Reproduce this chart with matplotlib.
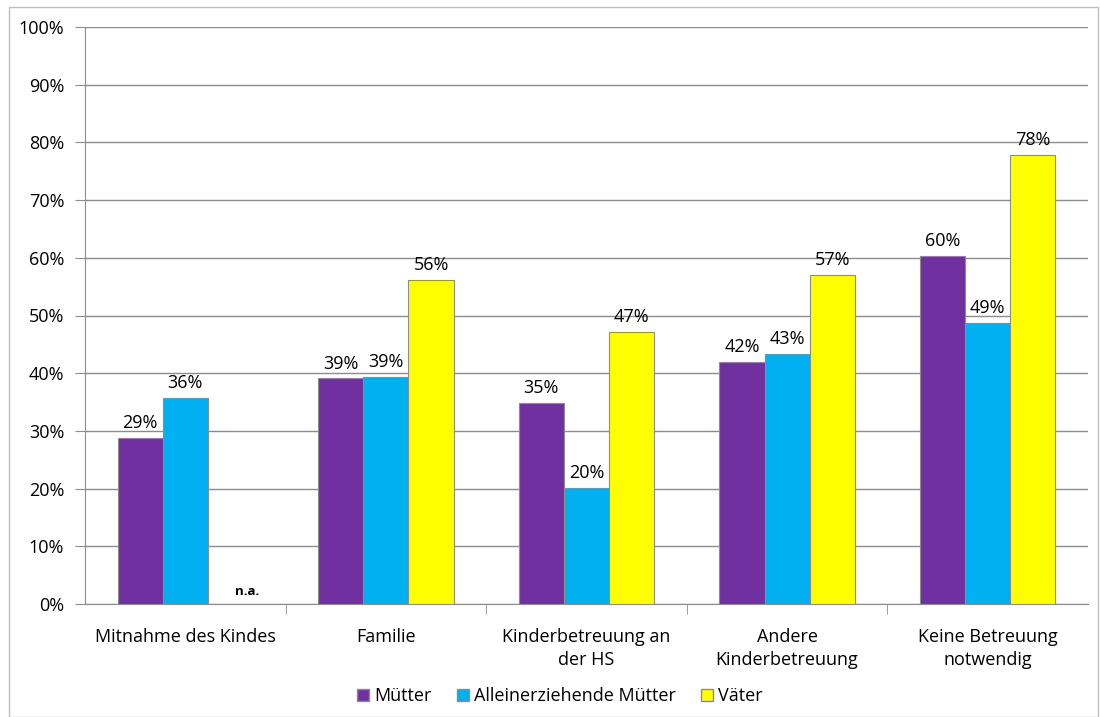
import numpy as np
import matplotlib.pyplot as plt
from matplotlib.patches import Rectangle

plt.rcParams['font.family'] = ['Open Sans', 'DejaVu Sans']

categories = ['Mitnahme des Kindes', 'Familie', 'Kinderbetreuung an\nder HS',
              'Andere\nKinderbetreuung', 'Keine Betreuung\nnotwendig']
series_names = ['Mütter', 'Alleinerziehende Mütter', 'Väter']
muetter = [28.8, 39.1, 34.8, 41.9, 60.3]
allein = [35.7, 39.4, 20.1, 43.3, 48.7]
vaeter = [None, 56.2, 47.2, 57.0, 77.8]
labels_muetter = ['29%', '39%', '35%', '42%', '60%']
labels_allein = ['36%', '39%', '20%', '43%', '49%']
labels_vaeter = [None, '56%', '47%', '57%', '78%']
colors = ['#7030A0', '#00B0F0', '#FFFF00']
fs = 13

fig = plt.figure(figsize=(11, 7.17), dpi=100)
ax = fig.add_axes([85 / 1100, 1 - 604 / 717, 1003 / 1100, 577 / 717])

# outer frame of the chart area
fig.patches.append(Rectangle((9 / 1100, 0), 1089 / 1100, 1 - 7 / 717,
                             transform=fig.transFigure, fill=False,
                             edgecolor='#BFBFBF', linewidth=1))

x = np.arange(len(categories))
w = 0.225
all_vals = [muetter, allein, vaeter]
all_labels = [labels_muetter, labels_allein, labels_vaeter]
for i, (vals, labs) in enumerate(zip(all_vals, all_labels)):
    pos = x + (i - 1) * w
    for p, v, lab in zip(pos, vals, labs):
        if v is None:
            continue
        ax.bar(p, v, width=w, color=colors[i], edgecolor='#8C8C8C',
               linewidth=0.8, zorder=3)
        ax.text(p, v + 1.0, lab, ha='center', va='bottom', fontsize=fs,
                zorder=4)

ax.text(x[0] + 0.31, 1.0, 'n.a.', ha='center', va='bottom', fontsize=9.5,
        fontweight='bold')

ax.set_xlim(-0.5, len(categories) - 0.5)
ax.set_ylim(0, 100)
ax.set_yticks(range(0, 101, 10))
ax.set_yticklabels([f'{t}%' for t in range(0, 101, 10)], fontsize=fs)
ax.yaxis.grid(True, color='#8C8C8C', linewidth=1, zorder=0)
ax.set_axisbelow(True)

ax.set_xticks(x)
ax.set_xticklabels(categories, fontsize=fs, linespacing=1.35)
ax.tick_params(axis='x', length=0, pad=17)
ax.set_xticks(np.arange(0.5, len(categories) - 1, 1), minor=True)
ax.tick_params(axis='x', which='minor', length=7, color='#8C8C8C')
ax.tick_params(axis='y', length=7, color='#8C8C8C', pad=8)

for s in ['top', 'right']:
    ax.spines[s].set_visible(False)
for s in ['left', 'bottom']:
    ax.spines[s].set_color('#8C8C8C')

handles = [Rectangle((0, 0), 1, 1, facecolor=c, edgecolor='#8C8C8C') for c in colors]
fig.legend(handles, series_names, loc='center', bbox_to_anchor=(560 / 1100, 1 - 696 / 717),
           ncol=3, frameon=False, fontsize=fs, handlelength=0.65, handleheight=0.65,
           handletextpad=0.3, columnspacing=1.4)

fig.savefig('out.png', dpi=100)
